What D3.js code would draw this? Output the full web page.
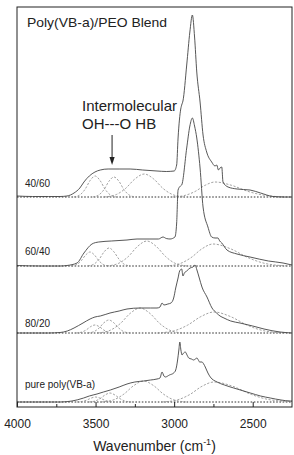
<!DOCTYPE html>
<html><head><meta charset="utf-8">
<script src="https://cdn.jsdelivr.net/npm/d3@7"></script>
<style>
html,body{margin:0;padding:0;background:#fff;}
svg{display:block;font-family:Arial,"Liberation Sans",Helvetica,sans-serif;}
</style>
</head><body>
<svg id="chart" width="294" height="455"></svg>
<script>
// ---------------- data ----------------
const xTicks = [4000, 3500, 3000, 2500];
const xMinorTicks = [3750, 3250, 2750];
const sampleLabels = ["40/60", "60/40", "80/20", "pure poly(VB-a)"];
const offsets = [210, 141, 74, 5];          // vertical stacking offsets (a.u.)

// measured spectra: [wavenumber, absorbance above own baseline]
const spec4060 = [[4000,1],[3900,0.5],[3800,0.5],[3726,0.5],[3682,1],[3637,4],[3600,9],[3574,15],[3540,21],[3504,25],[3470,27],[3420,28],[3350,28],[3280,28],[3200,27],[3109,26],[3050,25.5],[3000,26],[2984,32],[2975,59],[2958,88],[2952,92],[2944,96],[2920,132],[2900,165],[2884,182],[2870,160],[2856,125],[2835,95],[2816,62],[2793,45],[2761,35],[2740,31],[2729,32],[2718,27],[2708,29],[2697,30],[2689,15],[2657,10],[2600,8],[2517,7],[2450,4],[2371,0.5],[2300,0],[2250,0]];
const spec6040 = [[4000,0.5],[3850,0],[3726,0],[3682,0.5],[3618,3],[3574,13],[3523,22],[3480,24],[3400,25],[3300,26],[3236,27],[3154,27],[3100,27],[3071,29],[3050,27.5],[3026,27],[2995,29],[2984,43],[2975,76],[2960,80],[2952,81],[2920,118],[2900,140],[2884,148],[2870,140],[2856,128],[2835,98],[2816,59],[2785,39],[2761,29],[2740,28],[2721,28],[2710,25],[2697,23],[2664,16],[2600,12],[2517,9],[2400,5],[2307,3],[2250,1]];
const spec8020 = [[4000,0],[3800,0],[3726,0.5],[3680,2],[3637,5],[3580,10],[3535,14],[3504,16],[3470,17],[3408,20],[3350,22],[3300,24],[3217,25],[3150,25],[3109,25],[3090,26],[3077,30],[3065,28],[3040,29],[3020,30],[3003,35],[2990,45],[2975,55],[2965,62],[2952,64],[2944,57],[2935,60],[2920,62],[2899,65],[2880,66],[2867,68],[2855,63],[2840,55],[2823,46],[2791,36],[2759,25],[2730,20],[2708,17],[2683,15],[2640,12],[2581,10],[2500,7],[2428,4],[2326,1],[2250,0]];
const specPure = [[4000,0],[3800,0],[3726,0],[3650,1],[3576,4],[3540,6],[3491,8],[3450,10],[3406,12],[3350,15],[3300,18],[3250,20],[3194,21],[3150,22],[3109,23],[3090,24],[3077,30],[3065,26],[3056,25],[3030,27],[3003,29],[2990,32],[2978,42],[2970,52],[2964,60],[2957,52],[2950,47],[2940,49],[2929,50],[2918,47],[2907,44],[2890,43],[2876,42],[2865,43],[2855,44],[2846,42],[2838,40],[2823,40],[2812,38],[2802,35],[2785,29],[2770,25],[2727,20],[2680,17],[2621,14],[2515,9],[2450,6],[2388,4],[2320,2],[2261,1],[2250,1]];

// fitted component bands: points
const comp4060 = [
  [[3638,0],[3598,2.3],[3566,7.9],[3535,16.4],[3503,21],[3471,16.4],[3440,7.9],[3408,2.3],[3368,0]],
  [[3518,0],[3478,2.2],[3446,7.5],[3415,15.7],[3383,20],[3351,15.7],[3320,7.5],[3288,2.2],[3248,0]],
  [[3445,0],[3368,2.5],[3309,8.6],[3250,18],[3190,23],[3130,18],[3071,8.6],[3011,2.5],[2935,0]],
  [[3010,0],[2929,1.7],[2866,5.6],[2803,11.7],[2740,15],[2635,11.7],[2530,5.6],[2425,1.7],[2290,0]]
];
const comp6040 = [
  [[3655,0],[3619,1.5],[3591,5.3],[3563,11],[3535,14],[3507,11],[3479,5.3],[3451,1.5],[3415,0]],
  [[3549,0],[3509,2],[3477,6.8],[3446,14.1],[3414,18],[3383,14.1],[3351,6.8],[3320,2],[3279,0]],
  [[3428,0],[3352,2.8],[3292,9.4],[3233,19.6],[3173,25],[3114,19.6],[3054,9.4],[2995,2.8],[2918,0]],
  [[3053,0],[2963,2.4],[2893,8.3],[2823,17.2],[2753,22],[2641,17.2],[2529,8.3],[2417,2.4],[2273,0]]
];
const comp8020 = [
  [[3624,0],[3588,0.9],[3560,3],[3532,6.3],[3504,8],[3476,6.3],[3448,3],[3420,0.9],[3384,0]],
  [[3550,0],[3510,1.4],[3478,4.9],[3447,10.2],[3415,13],[3384,10.2],[3352,4.9],[3321,1.4],[3280,0]],
  [[3487,0],[3406,2.8],[3343,9.4],[3280,19.6],[3217,25],[3154,19.6],[3091,9.4],[3028,2.8],[2947,0]],
  [[3106,0],[2998,2.3],[2914,7.9],[2830,16.4],[2746,21],[2641,16.4],[2536,7.9],[2431,2.3],[2296,0]]
];
const compPure = [
  [[3620,0],[3584,0.6],[3556,1.9],[3528,3.9],[3500,5],[3472,3.9],[3444,1.9],[3416,0.6],[3380,0]],
  [[3543,0],[3503,1],[3471,3.4],[3440,7],[3408,9],[3377,7],[3345,3.4],[3314,1],[3273,0]],
  [[3464,0],[3383,2.3],[3320,7.9],[3257,16.4],[3194,21],[3131,16.4],[3068,7.9],[3005,2.3],[2924,0]],
  [[3076,0],[2977,2.2],[2900,7.5],[2823,15.7],[2746,20],[2627,15.7],[2508,7.5],[2389,2.2],[2250,0.5]]
];

const spectra = [spec4060, spec6040, spec8020, specPure];
const components = [comp4060, comp6040, comp8020, compPure];

const titleText = "Poly(VB-a)/PEO Blend";
const annotLines = ["Intermolecular", "OH---O HB"];
const annotWavenumber = 3395;
const xTitle = "Wavenumber (cm";

// ---------------- layout ----------------
const L = 17, R = 292, T = 7, B = 407;
const labelLift = [10, 11, 6, 14];

const svg = d3.select("#chart");
const x = d3.scaleLinear().domain([4000, 2250]).range([L, R]);
const y = d3.scaleLinear().domain([0, 400]).range([B, T]);

svg.append("defs").append("clipPath").attr("id", "clip")
  .append("rect").attr("x", L).attr("y", T).attr("width", R - L).attr("height", B - T);

const plot = svg.append("g").attr("clip-path", "url(#clip)");

spectra.forEach((spec, i) => {
  const off = offsets[i];
  const line = d3.line().x(d => x(d[0])).y(d => y(d[1] + off)).curve(d3.curveMonotoneX);
  plot.append("line")
    .attr("x1", x(4000)).attr("x2", x(2250))
    .attr("y1", y(off)).attr("y2", y(off))
    .attr("stroke", "#333").attr("stroke-width", 1)
    .attr("stroke-dasharray", "1.6,1.6");
  components[i].forEach(c => {
    plot.append("path").attr("d", line(c))
      .attr("fill", "none").attr("stroke", "#8a8a8a")
      .attr("stroke-width", 0.8).attr("stroke-dasharray", "2.2,1.6");
  });
  plot.append("path").attr("d", line(spec))
    .attr("fill", "none").attr("stroke", "#444").attr("stroke-width", 0.9);
  svg.append("text").attr("x", L + 8).attr("y", y(off + labelLift[i]))
    .attr("font-size", 10).attr("fill", "#222").text(sampleLabels[i]);
});

// frame
svg.append("rect").attr("x", L).attr("y", T).attr("width", R - L).attr("height", B - T)
  .attr("fill", "none").attr("stroke", "#222").attr("stroke-width", 1);

// bottom axis, ticks pointing inward
const axis = svg.append("g").attr("transform", `translate(0,${B})`)
  .call(d3.axisBottom(x).tickValues(xTicks).tickFormat(d3.format("d"))
    .tickSizeInner(-5).tickSizeOuter(0).tickPadding(12));
axis.select(".domain").remove();
axis.selectAll(".tick line").attr("stroke", "#222");
axis.selectAll(".tick text").attr("font-size", 12).attr("fill", "#222")
  .attr("font-family", "Arial,'Liberation Sans',sans-serif");
const minor = svg.append("g").attr("transform", `translate(0,${B})`)
  .call(d3.axisBottom(x).tickValues(xMinorTicks).tickFormat("").tickSizeInner(-3).tickSizeOuter(0));
minor.select(".domain").remove();
minor.selectAll(".tick line").attr("stroke", "#222");

// axis title
const xt = svg.append("text").attr("x", (L + R) / 2).attr("y", 451)
  .attr("text-anchor", "middle").attr("font-size", 14).attr("fill", "#222");
xt.append("tspan").text(xTitle);
xt.append("tspan").attr("font-size", 9).attr("dy", -6).text("-1");
xt.append("tspan").attr("dy", 6).text(")");

// title
svg.append("text").attr("x", 27).attr("y", 27).attr("font-size", 13).attr("fill", "#222")
  .attr("textLength", 140).attr("lengthAdjust", "spacingAndGlyphs").text(titleText);

// annotation
svg.append("text").attr("x", 82).attr("y", 111).attr("font-size", 15).attr("fill", "#222").text(annotLines[0]);
svg.append("text").attr("x", 82).attr("y", 129).attr("font-size", 15).attr("fill", "#222").text(annotLines[1]);
const ax = x(annotWavenumber);
svg.append("line").attr("x1", ax).attr("x2", ax).attr("y1", 135).attr("y2", 158)
  .attr("stroke", "#222").attr("stroke-width", 1);
svg.append("path").attr("d", `M${ax - 2.6},157 L${ax + 2.6},157 L${ax},165 Z`).attr("fill", "#222");
</script>
</body></html>
